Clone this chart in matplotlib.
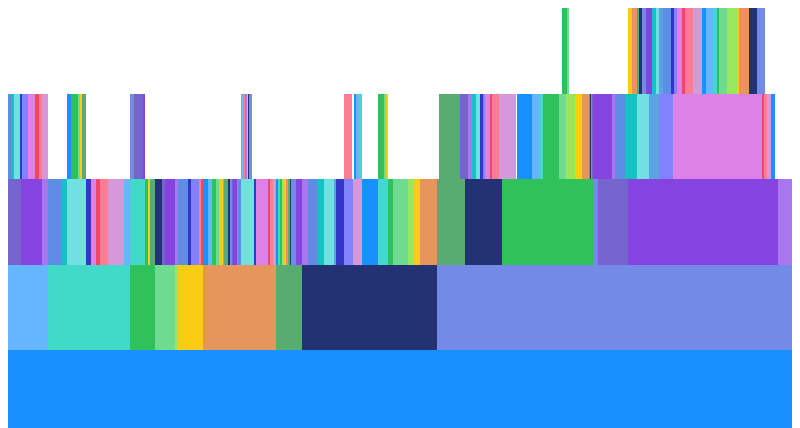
import numpy as np
import matplotlib
matplotlib.use("Agg")
import matplotlib.pyplot as plt

# palette (G2 style 24 colours)
blue = "#1890FF"; lightblue = "#66B5FF"; turquoise = "#41D9C7"; green = "#2FC25B"
lightgreen = "#6EDB8F"; lime = "#9AE65C"; yellow = "#FACC14"; orange = "#E6965C"
seagreen = "#57AD71"; navy = "#223273"; periwinkle = "#738AE6"; slate = "#7564CC"
purple = "#8543E0"; lavender = "#A877ED"; cornflower = "#5C8EE6"; teal = "#13C2C2"
lightteal = "#70E0E0"; cyanblue = "#5CA3E6"; indigo = "#3436C7"; violet = "#8082FF"
orchid = "#DD81E6"; red = "#F04864"; pink = "#FA7D92"; lightorchid = "#D598D9"
gap = None

# level 0 (root)
level0_values = [784]
level0_colors = [blue]

# level 1
level1_values = [40, 82, 25, 20, 3, 25, 73, 26, 135, 355]
level1_colors = [lightblue, turquoise, green, lightgreen, lime, yellow, orange, seagreen, navy, periwinkle]

# level 2
level2_values = [13, 21, 6,
                 14, 5, 19, 5, 5, 4, 8, 16, 6,
                 15, 3, 2, 5,
                 7, 3, 10,
                 3,
                 10, 3, 8, 2, 2,
                 5, 3, 1, 4, 3, 1, 3, 1, 4, 2, 2, 1, 4, 1, 3, 13, 2, 12, 2, 3, 3,
                 2, 2, 2, 2, 2, 2, 2, 1, 5, 6,
                 6, 9, 7, 10, 2, 8, 9, 9, 16, 10, 5, 15, 6, 6, 17,
                 28, 37, 91, 5, 30, 150, 14]
level2_colors = [slate, purple, lavender,
                 cornflower, teal, lightteal, indigo, orchid, red, pink, lightorchid, lightblue,
                 turquoise, green, yellow, seagreen,
                 navy, slate, purple,
                 lavender,
                 cornflower, indigo, violet, pink, red,
                 blue, lightblue, turquoise, green, lightgreen, lime, yellow, orange, seagreen, navy,
                 periwinkle, slate, purple, lavender, cornflower, lightteal, indigo, orchid, red, pink, lightorchid,
                 blue, turquoise, green, lime, yellow, orange, seagreen, navy, periwinkle, purple,
                 lavender, cornflower, teal, lightteal, cyanblue, indigo, violet, lightorchid, blue,
                 turquoise, green, lightgreen, lime, yellow, orange,
                 seagreen, navy, green, periwinkle, slate, purple, lavender]

# level 3
level3_values = [3, 3, 6, 2, 2, 4, 7, 4, 3, 6,
                 19,
                 4, 7, 2, 2, 4,
                 44,
                 4, 9, 2,
                 96.5,
                 1.5, 2.5, 1.5, 1.2, 1.3, 3,
                 92,
                 8, 2, 2, 3, 3,
                 15.5,
                 6, 2, 2.5,
                 50.5,
                 21.5, 8, 4, 4, 4, 3, 2, 5, 2, 7, 17, 16, 8, 3, 16, 7, 9, 7, 7,
                 1, 1, 1, 1, 19, 3, 10, 12, 12, 10, 14, 89, 2, 3, 4, 4]
level3_colors = [cornflower, teal, lightteal, indigo, violet, violet, orchid, red, pink, lightorchid,
                 gap,
                 blue, green, lightgreen, yellow, seagreen,
                 gap,
                 periwinkle, slate, purple,
                 gap,
                 lightblue, pink, lavender, yellow, navy, periwinkle,
                 gap,
                 pink, gap, blue, lightblue, turquoise,
                 gap,
                 green, lightgreen, yellow,
                 gap,
                 seagreen, slate, lavender, teal, lightteal, indigo, violet, orchid, red, pink, lightorchid,
                 blue, lightblue, turquoise, green, lightgreen, lime, yellow, orange,
                 seagreen, navy, periwinkle, slate, purple, lavender, cornflower, teal, lightteal, cyanblue,
                 violet, orchid, red, pink, lightorchid, blue]

# level 4
level4_values = [554, 5, 2, 59,
                 4, 5, 2, 3, 4, 6, 4, 3, 4, 8, 3, 3, 5, 3, 8, 9, 4, 7, 4, 2, 8, 10, 2, 10, 8, 8]
level4_colors = [gap, green, lightgreen, gap,
                 yellow, orange, seagreen, navy, periwinkle, purple, teal, lightteal, cyanblue, cornflower,
                 indigo, violet, orchid, red, pink, lightorchid, blue, lightblue, turquoise, green,
                 lightgreen, lime, yellow, orange, navy, periwinkle]

levels = [(level0_values, level0_colors), (level1_values, level1_colors),
          (level2_values, level2_colors), (level3_values, level3_colors),
          (level4_values, level4_colors)]

fig = plt.figure(figsize=(8.0, 4.28), dpi=100)
ax = fig.add_axes([0.01, 0.0, 0.98, 1.0])

for depth, (vals, cols) in enumerate(levels):
    vals = np.asarray(vals, dtype=float)
    lefts = np.concatenate([[0], np.cumsum(vals)[:-1]])
    keep = [c is not None for c in cols]
    ax.bar(lefts[keep], 1.0, width=vals[keep], bottom=depth, align="edge",
           color=[c for c in cols if c is not None], linewidth=0)

ax.set_xlim(0, 784)
ax.set_ylim(1 - 78 / 85.5, 5 + 8 / 85.5)
ax.axis("off")

fig.savefig("out.png", dpi=100, facecolor="white")
